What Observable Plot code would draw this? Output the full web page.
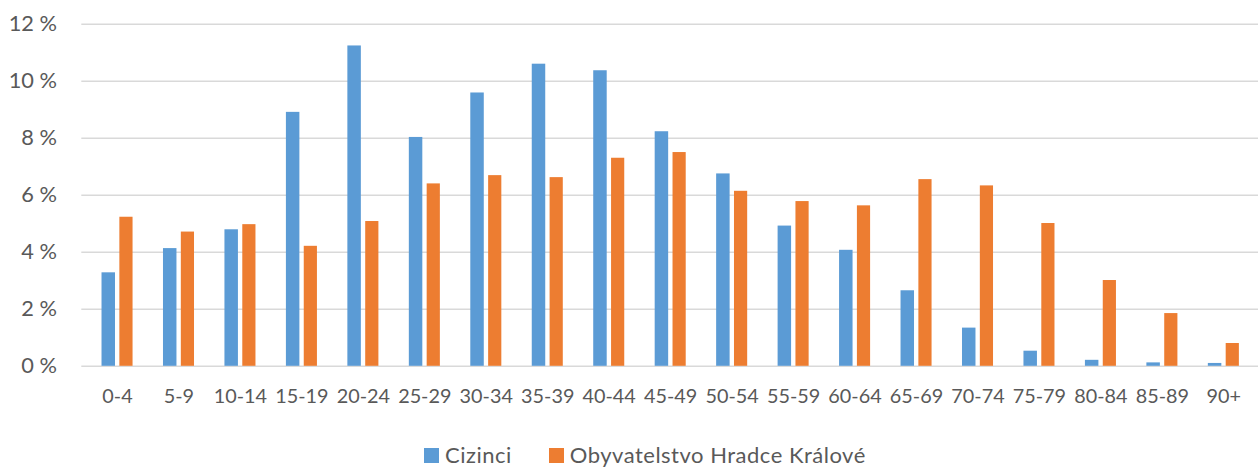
<!DOCTYPE html>
<html>
<head>
<meta charset="utf-8">
<script src="https://cdn.jsdelivr.net/npm/d3@7"></script>
<script src="https://cdn.jsdelivr.net/npm/@observablehq/plot@0.6"></script>
<style>
  html, body { margin: 0; padding: 0; background: #fff; overflow: hidden; width: 1259px; height: 467px; }
  #chart { position: absolute; left: 0; top: 0; }
  #legend { position: absolute; left: 424px; top: 444px; height: 22px; line-height: 22px; display: flex; align-items: center;
    font-family: Lato, sans-serif; font-size: 22px; letter-spacing: 0.5px; color: #595959; white-space: nowrap; }
  .sw { display: inline-block; width: 15px; height: 15px; margin-right: 6px; }
  .item { display: flex; align-items: center; }
  #chart g[aria-label="y-axis tick label"] { font-size: 22px; }
</style>
</head>
<body>
<div id="chart"></div>
<div id="legend"></div>
<script>
const ages = ["0-4","5-9","10-14","15-19","20-24","25-29","30-34","35-39","40-44","45-49","50-54","55-59","60-64","65-69","70-74","75-79","80-84","85-89","90+"];
const cizinci = [3.28,4.13,4.79,8.91,11.24,8.03,9.59,10.60,10.37,8.23,6.75,4.92,4.07,2.65,1.34,0.53,0.21,0.12,0.10];
const obyvatelstvo = [5.23,4.71,4.97,4.21,5.08,6.40,6.69,6.62,7.30,7.50,6.14,5.78,5.63,6.55,6.33,5.01,3.01,1.85,0.80];
const yTicks = [0,2,4,6,8,10,12];
const seriesNames = ["Cizinci","Obyvatelstvo Hradce Králové"];
const colors = ["#5b9bd5","#ed7d31"];

const dataC = ages.map((a,i) => ({age: a, value: cizinci[i]}));
const dataO = ages.map((a,i) => ({age: a, value: obyvatelstvo[i]}));

const chart = Plot.plot({
  width: 1270,
  height: 420,
  marginLeft: 82,
  marginRight: 1,
  marginTop: 24,
  marginBottom: 51,
  style: { fontFamily: "Lato, sans-serif", fontSize: "20px", color: "#595959", background: "#fff" },
  x: { domain: ages, padding: 0, label: null, tickSize: 0, tickPadding: 23 },
  y: { domain: [0,12], ticks: yTicks, tickFormat: d => d + " %", label: null, tickSize: 0, tickPadding: 25 },
  marks: [
    Plot.ruleY(yTicks, { stroke: "#d9d9d9", strokeWidth: 1.4 }),
    Plot.barY(dataC, { x: "age", y: "value", fill: colors[0], insetLeft: 15.4, insetRight: 33 }),
    Plot.barY(dataO, { x: "age", y: "value", fill: colors[1], insetLeft: 33.4, insetRight: 15.3 })
  ]
});
document.getElementById("chart").appendChild(chart);

const legend = document.getElementById("legend");
seriesNames.forEach((name, i) => {
  const item = document.createElement("span");
  item.className = "item";
  if (i > 0) item.style.marginLeft = "37px";
  const sw = document.createElement("span");
  sw.className = "sw";
  sw.style.background = colors[i];
  item.appendChild(sw);
  item.appendChild(document.createTextNode(name));
  legend.appendChild(item);
});
</script>
</body>
</html>
